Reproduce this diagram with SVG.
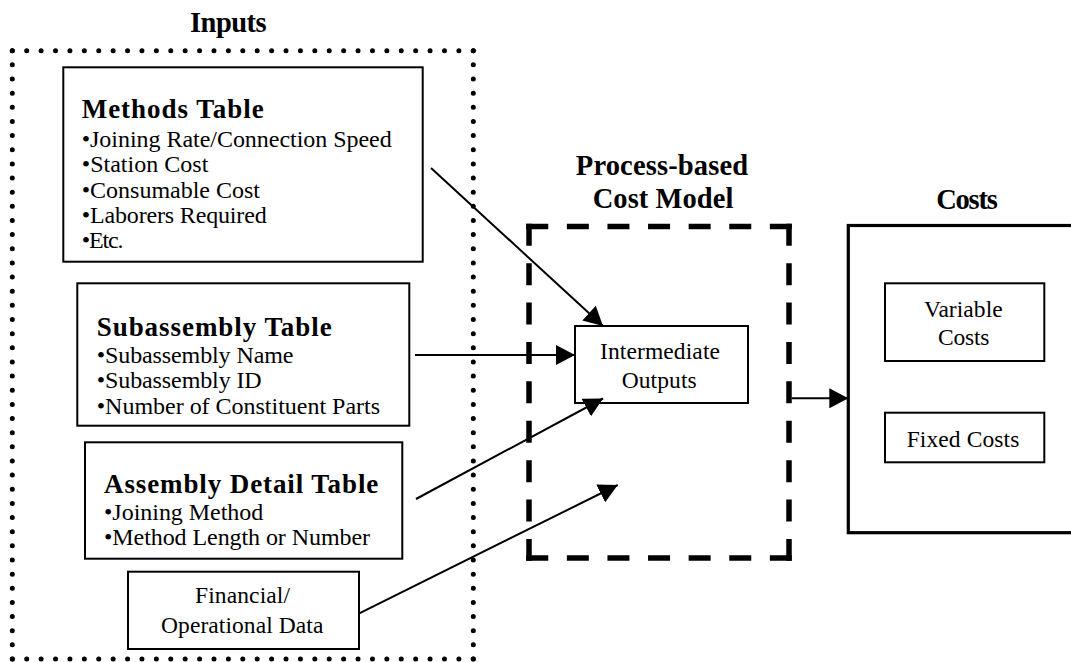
<svg xmlns="http://www.w3.org/2000/svg" width="1071" height="662" viewBox="0 0 1071 662">
  <style>
    text { font-family: "Liberation Serif", "Times New Roman", Times, serif; fill: #000; }
    .title { font-size: 28.5px; font-weight: bold; text-anchor: middle; }
    .head { font-size: 27px; font-weight: bold; }
    .item { font-size: 24px; }
    .label { font-size: 23.5px; text-anchor: middle; }
    .box { fill: #fff; stroke: #000; stroke-width: 2; }
    .dots { fill: none; stroke: #000; stroke-width: 5; stroke-linecap: round; }
    .dash { fill: none; stroke: #000; stroke-width: 5.5; }
    .conn { fill: none; stroke: #000; stroke-width: 2; marker-end: url(#arrow); }
  </style>
  <defs>
    <marker id="arrow" markerUnits="userSpaceOnUse" markerWidth="20" markerHeight="20" refX="19" refY="10" orient="auto" viewBox="0 0 20 20">
      <path d="M0,0 L19,10 L0,20 z" fill="#000"/>
    </marker>
  </defs>

  <rect width="1071" height="662" fill="#fff"/>

  <!-- Inputs: dotted frame -->
  <g id="inputs">
    <text class="title" x="228.3" y="31.7" textLength="76.7">Inputs</text>
    <path class="dots" d="M12.3,50.7 H473.8" stroke-dasharray="0 14.406"/>
    <path class="dots" d="M12.3,659 H473.8" stroke-dasharray="0 14.406"/>
    <path class="dots" d="M12.3,50.7 V659.5" stroke-dasharray="0 14.147"/>
    <path class="dots" d="M473.3,50.7 V659.5" stroke-dasharray="0 14.147"/>
  </g>

  <g id="methods-table">
    <rect class="box" x="63.3" y="67.3" width="359.4" height="194.4"/>
    <text class="head" x="81.7" y="118" textLength="182">Methods Table</text>
    <text class="item" x="81.7" y="146.5" textLength="310">•Joining Rate/Connection Speed</text>
    <text class="item" x="81.7" y="171.7" textLength="126.7">•Station Cost</text>
    <text class="item" x="81.7" y="197.5" textLength="178.3">•Consumable Cost</text>
    <text class="item" x="81.7" y="223" textLength="185">•Laborers Required</text>
    <text class="item" x="81.7" y="248.3" textLength="41.7">•Etc.</text>
  </g>

  <g id="subassembly-table">
    <rect class="box" x="77.3" y="283.3" width="332" height="142.4"/>
    <text class="head" x="96.7" y="335.5" textLength="235">Subassembly Table</text>
    <text class="item" x="96.7" y="362.7" textLength="196.7">•Subassembly Name</text>
    <text class="item" x="96.7" y="388.3" textLength="165">•Subassembly ID</text>
    <text class="item" x="96.7" y="414" textLength="283.3">•Number of Constituent Parts</text>
  </g>

  <g id="assembly-detail-table">
    <rect class="box" x="85" y="442.3" width="317.3" height="116.4"/>
    <text class="head" x="104" y="493.3" textLength="274.3">Assembly Detail Table</text>
    <text class="item" x="104" y="520" textLength="159.3">•Joining Method</text>
    <text class="item" x="104" y="545" textLength="266">•Method Length or Number</text>
  </g>

  <g id="financial-data">
    <rect class="box" x="128" y="571.7" width="231" height="77.3"/>
    <text class="label" x="242.5" y="603.3" textLength="95">Financial/</text>
    <text class="label" x="242.2" y="632.7" textLength="162.3">Operational Data</text>
  </g>

  <!-- Process-based cost model: dashed frame -->
  <g id="cost-model">
    <text class="title" x="662" y="175" textLength="172.3">Process-based</text>
    <text class="title" x="663" y="208.3" textLength="140.6">Cost Model</text>
    <path class="dash" d="M526.25,226.5 H791.75" stroke-dasharray="22 18.6"/>
    <path class="dash" d="M526.25,558 H791.75" stroke-dasharray="22 18.6"/>
    <path class="dash" d="M529,223.75 V560.75" stroke-dasharray="22 17.4"/>
    <path class="dash" d="M789,223.75 V560.75" stroke-dasharray="22 17.4"/>
  </g>

  <g id="intermediate-outputs">
    <rect class="box" x="575" y="326" width="173" height="77"/>
    <text class="label" x="660" y="359.3" textLength="120">Intermediate</text>
    <text class="label" x="659.2" y="388.3" textLength="75">Outputs</text>
  </g>

  <!-- Costs frame -->
  <g id="costs">
    <text class="title" x="967" y="209.3" textLength="61.7">Costs</text>
    <rect x="848.3" y="225.5" width="240" height="307.2" fill="none" stroke="#000" stroke-width="3.2"/>
  </g>

  <g id="variable-costs">
    <rect class="box" x="885" y="283.3" width="159.3" height="77.7"/>
    <text class="label" x="963.3" y="316.7" textLength="78.7">Variable</text>
    <text class="label" x="963.7" y="345" textLength="51.3">Costs</text>
  </g>

  <g id="fixed-costs">
    <rect class="box" x="885" y="412.7" width="159.3" height="49.6"/>
    <text class="label" x="963" y="446.7" textLength="112.6">Fixed Costs</text>
  </g>

  <!-- Connectors -->
  <g id="connectors">
    <path class="conn" d="M431,168 L603,326"/>
    <path class="conn" d="M415,355 L575,355"/>
    <path class="conn" d="M416,499 L603,398.5"/>
    <path class="conn" d="M359.3,613.3 L617.7,485"/>
    <path class="conn" d="M791.7,398.3 L848.3,398.3"/>
  </g>
</svg>
